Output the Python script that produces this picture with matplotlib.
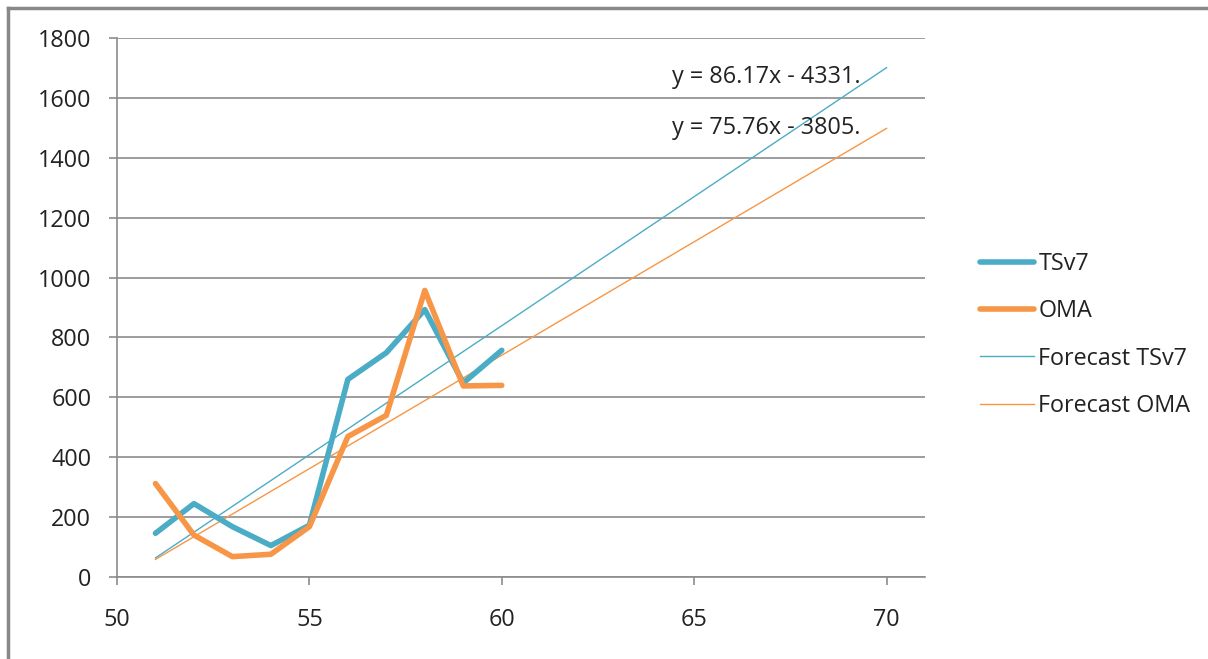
import matplotlib.pyplot as plt
from matplotlib.lines import Line2D
import numpy as np

plt.rcParams['font.family'] = ['Open Sans', 'DejaVu Sans']

weeks = [51, 52, 53, 54, 55, 56, 57, 58, 59, 60]
tsv7 = [146, 245, 168, 105, 173, 660, 749, 893, 648, 757]
oma = [312, 140, 68, 76, 168, 469, 540, 957, 638, 640]

# linear trend coefficients (slope, intercept)
trend_tsv7 = (86.17, -4331)
trend_oma = (75.76, -3805)
trend_x = [51, 70]

teal = '#4BACC6'
orange = '#F79646'
grid_c = '#8c8c8c'
txt_c = '#222222'
fs = 16.8

fig = plt.figure(figsize=(12.08, 6.59), dpi=100)
ax = fig.add_axes([117 / 1208, 1 - 577 / 659, (925 - 117) / 1208, (577 - 38) / 659])

ax.plot(weeks, tsv7, color=teal, lw=4, solid_capstyle='round', solid_joinstyle='round', label='TSv7', zorder=3)
ax.plot(weeks, oma, color=orange, lw=4, solid_capstyle='round', solid_joinstyle='round', label='OMA', zorder=3)

tx = np.array(trend_x)
ax.plot(tx, trend_tsv7[0] * tx + trend_tsv7[1], color=teal, lw=1, label='Forecast TSv7', zorder=2)
ax.plot(tx, trend_oma[0] * tx + trend_oma[1], color=orange, lw=1, label='Forecast OMA', zorder=2)

ax.set_xlim(50, 71)
ax.set_ylim(0, 1800)
ax.set_xticks([50, 55, 60, 65, 70])
ax.set_yticks(range(0, 1801, 200))
ax.yaxis.grid(True, color=grid_c, lw=1.2)
ax.set_axisbelow(True)
for s in ['top', 'right']:
    ax.spines[s].set_visible(False)
for s in ['left', 'bottom']:
    ax.spines[s].set_color(grid_c)
    ax.spines[s].set_linewidth(1.2)
ax.tick_params(axis='both', colors=grid_c, labelcolor=txt_c, labelsize=fs, length=6, width=1.2)
ax.tick_params(axis='x', pad=16)
ax.tick_params(axis='y', pad=12.5)

ax.text(672 / 1208, 1 - 77 / 659, 'y = 86.17x - 4331.', transform=fig.transFigure,
        fontsize=fs, color=txt_c, va='center', ha='left')
ax.text(672 / 1208, 1 - 128 / 659, 'y = 75.76x - 3805.', transform=fig.transFigure,
        fontsize=fs, color=txt_c, va='center', ha='left')

leg = ax.legend(loc='center left', bbox_to_anchor=(959 / 1208, 1 - 335 / 659),
                bbox_transform=fig.transFigure, frameon=False, fontsize=fs,
                handlelength=2.3, handletextpad=0.2, labelspacing=1.0)
for t in leg.get_texts():
    t.set_color(txt_c)

# chart frame on top and left edges
fig.add_artist(Line2D([8 / 1208, 8 / 1208], [0, 1 - 8 / 659], transform=fig.transFigure, color='#888888', lw=2.5))
fig.add_artist(Line2D([8 / 1208, 1], [1 - 8 / 659, 1 - 8 / 659], transform=fig.transFigure, color='#888888', lw=2.5))

fig.savefig('out.png', dpi=100)
